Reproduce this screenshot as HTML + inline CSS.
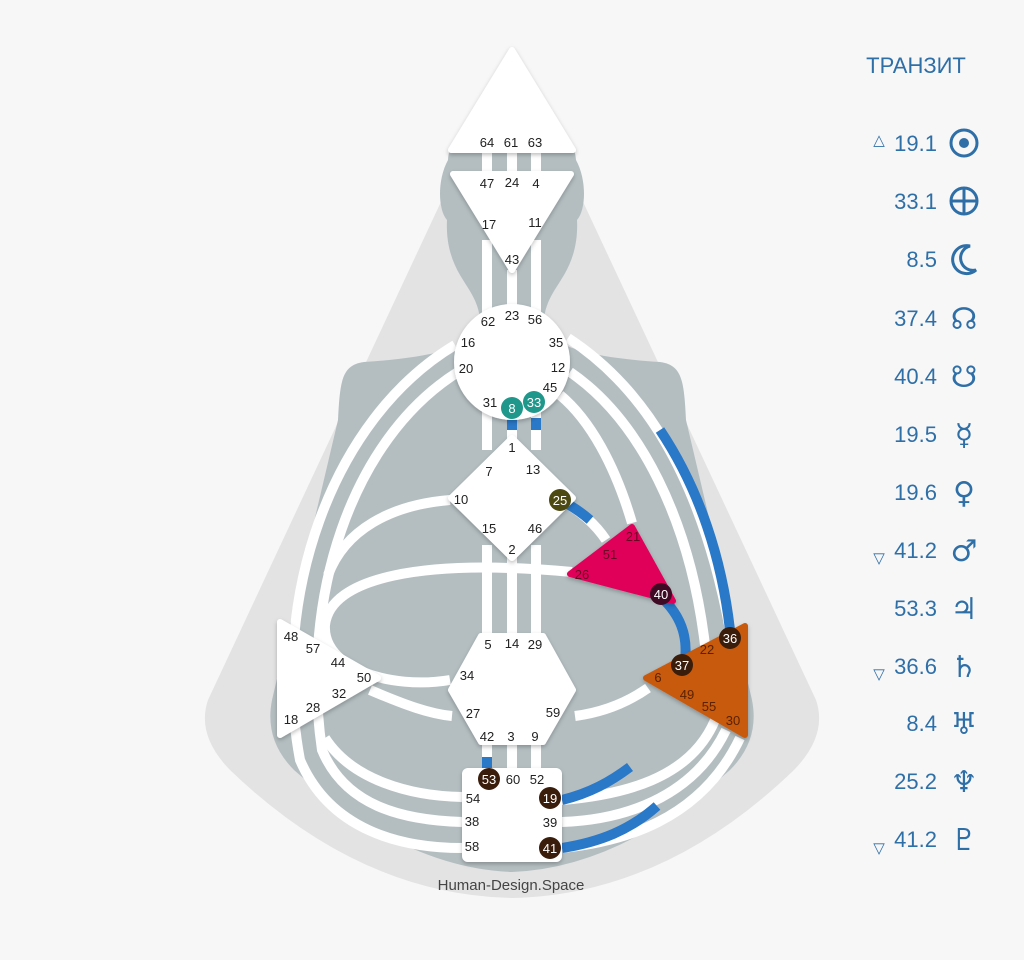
<!DOCTYPE html>
<html><head><meta charset="utf-8"><style>
html,body{margin:0;padding:0;background:#f7f7f7;}
</style></head><body>
<svg width="1024" height="960" viewBox="0 0 1024 960" xmlns="http://www.w3.org/2000/svg" style="position:absolute;left:0;top:0">
<defs>
<filter id="sh" x="-20%" y="-20%" width="140%" height="140%"><feDropShadow dx="0" dy="2" stdDeviation="2" flood-color="#000" flood-opacity="0.25"/></filter>
</defs>
<rect width="1024" height="960" fill="#f7f7f7"/>
<path d="M512,50 L208,700 Q196,735 230,770 Q360,895 512,898 Q664,895 794,770 Q828,735 816,700 Z" fill="#e3e3e3"/>
<path d="M480,330 C482,305 470,292 460,275 C450,258 446,240 447,220 C438,210 437,180 448,160 C450,130 478,118 512,118 C546,118 574,130 576,160 C587,180 586,210 577,220 C578,240 574,258 564,275 C554,292 542,305 544,330 C560,350 600,358 660,362 C682,365 684,380 686,420 L752,700 Q760,740 730,770 Q620,868 512,872 Q404,868 294,770 Q264,740 272,700 L338,420 C340,380 342,365 364,362 C424,358 464,350 480,330 Z" fill="#b4bec1"/>
<g fill="none" stroke="#fff" stroke-width="10">
<path d="M487,150V180M512,150V180M536,150V180"/>
<path d="M487,240V320M512,270V320M536,240V320"/>
<path d="M487,400V450M512,400V450M536,400V450"/>
<path d="M487,545V650M512,545V650M536,545V650"/>
<path d="M487,735V775M512,735V775M536,735V775"/>
<path d="M455,345 C330,420 270,600 300,760 C330,830 400,848 462,848"/>
<path d="M458,372 C350,440 300,600 322,750 C345,805 400,820 462,822"/>
<path d="M325,738 C352,780 410,796 462,797"/>
<path d="M450,500 C390,505 345,530 328,575"/>
<path d="M572,572 C420,558 330,578 325,625 C322,668 390,690 450,680"/>
<path d="M370,690 C405,705 430,714 452,716"/>
<path d="M575,716 C605,712 628,702 648,688"/>
<path d="M568,338 C640,385 700,470 730,630"/>
<path d="M570,372 C640,420 690,520 705,645"/>
<path d="M632,523 C615,465 590,420 560,395"/>
<path d="M560,500 C580,510 596,525 606,540"/>
<path d="M715,720 C690,780 620,795 562,800"/>
<path d="M726,730 C692,800 620,820 562,822"/>
<path d="M740,738 C700,822 620,842 562,848"/>
</g>
<g fill="none" stroke="#2a78c8" stroke-width="10">
<path d="M512,418V430M536,418V430"/>
<path d="M487,757V770"/>
<path d="M660,430 C700,490 722,560 730,630"/>
<path d="M560,500 C572,506 582,513 590,520"/>
<path d="M662,598 C680,615 688,635 685,660"/>
<path d="M630,767 C610,782 590,793 562,800"/>
<path d="M657,806 C630,830 600,842 562,848"/>
</g>
<g fill="#fff" stroke="#fff" stroke-width="6" stroke-linejoin="round" filter="url(#sh)">
<path d="M512,50 L573,150 L451,150 Z"/>
<path d="M453,174 L571,174 L512,270 Z"/>
<circle cx="512" cy="362" r="58" stroke="none"/>
<path d="M512,438 L573,498 L512,558 L451,498 Z"/>
<path d="M481,636 L543,636 L573,690 L543,742 L481,742 L451,690 Z"/>
<rect x="462" y="768" width="100" height="94" rx="6" stroke="none"/>
<path d="M280,622 L378,678 L280,735 Z"/>
<path d="M632,527 L673,601 L570,574 Z" fill="#e0045a" stroke="#e0045a"/>
<path d="M745,626 L745,735 L646,678 Z" fill="#c75a0c" stroke="#c75a0c"/>
</g>
<g>
<circle cx="512" cy="408" r="11" fill="#1f978b"/><circle cx="534" cy="402" r="11" fill="#1f978b"/>
<circle cx="560" cy="500" r="11" fill="#4c4912"/>
<circle cx="661" cy="594" r="11" fill="#3e0a24"/>
<circle cx="730" cy="638" r="11" fill="#3a1d0b"/><circle cx="682" cy="665" r="11" fill="#3a1d0b"/>
<circle cx="489" cy="779" r="11" fill="#3a1d0b"/><circle cx="550" cy="798" r="11" fill="#3a1d0b"/><circle cx="550" cy="848" r="11" fill="#3a1d0b"/>
</g>
<g font-family="Liberation Sans, sans-serif" font-size="13" fill="#222" text-anchor="middle">
<text x="487" y="147">64</text><text x="511" y="147">61</text><text x="535" y="147">63</text>
<text x="487" y="188">47</text><text x="512" y="187">24</text><text x="536" y="188">4</text>
<text x="489" y="229">17</text><text x="535" y="227">11</text><text x="512" y="264">43</text>
<text x="488" y="326">62</text><text x="512" y="320">23</text><text x="535" y="324">56</text>
<text x="468" y="347">16</text><text x="556" y="347">35</text>
<text x="466" y="373">20</text><text x="558" y="372">12</text>
<text x="550" y="392">45</text><text x="490" y="407">31</text>
<text x="512" y="452">1</text><text x="489" y="476">7</text><text x="533" y="474">13</text>
<text x="461" y="504">10</text><text x="489" y="533">15</text><text x="535" y="533">46</text><text x="512" y="554">2</text>
<text x="488" y="649">5</text><text x="512" y="648">14</text><text x="535" y="649">29</text>
<text x="467" y="680">34</text><text x="473" y="718">27</text><text x="553" y="717">59</text>
<text x="487" y="741">42</text><text x="511" y="741">3</text><text x="535" y="741">9</text>
<text x="513" y="784">60</text><text x="537" y="784">52</text>
<text x="473" y="803">54</text><text x="472" y="826">38</text><text x="550" y="827">39</text><text x="472" y="851">58</text>
<text x="291" y="641">48</text><text x="313" y="653">57</text><text x="338" y="667">44</text><text x="364" y="682">50</text>
<text x="339" y="698">32</text><text x="313" y="712">28</text><text x="291" y="724">18</text>
<g fill="#6a0524"><text x="633" y="541">21</text><text x="610" y="559">51</text><text x="582" y="579">26</text></g>
<g fill="#5a2200"><text x="707" y="654">22</text><text x="658" y="682">6</text><text x="687" y="699">49</text><text x="709" y="711">55</text><text x="733" y="725">30</text></g>
<g fill="#fff"><text x="512" y="413">8</text><text x="534" y="407">33</text><text x="560" y="505">25</text><text x="661" y="599">40</text><text x="730" y="643">36</text><text x="682" y="670">37</text><text x="489" y="784">53</text><text x="550" y="803">19</text><text x="550" y="853">41</text></g>
<text x="511" y="890" font-size="15" fill="#444">Human-Design.Space</text>
</g>
<g font-family="Liberation Sans, sans-serif" fill="#2f6fa7">
<text x="916" y="73" font-size="22" text-anchor="middle">ТРАНЗИТ</text>
<g font-size="22" text-anchor="end">
<text x="937" y="151">19.1</text><text x="937" y="209">33.1</text><text x="937" y="267">8.5</text><text x="937" y="326">37.4</text><text x="937" y="384">40.4</text><text x="937" y="442">19.5</text><text x="937" y="500">19.6</text><text x="937" y="558">41.2</text><text x="937" y="616">53.3</text><text x="937" y="674">36.6</text><text x="937" y="731">8.4</text><text x="937" y="789">25.2</text><text x="937" y="847">41.2</text>
</g>
<g font-size="15" text-anchor="middle"><text x="879" y="145">△</text><text x="879" y="563">▽</text><text x="879" y="679">▽</text><text x="879" y="853">▽</text></g>
</g>
<g fill="none" stroke="#2f6fa7" stroke-width="3">
<circle cx="964" cy="143" r="13"/><circle cx="964" cy="143" r="5" fill="#2f6fa7" stroke="none"/>
<circle cx="964" cy="201" r="13"/><path d="M951,201H977M964,188V214"/>
<path d="M970,246 A14,14 0 1 0 976,270 A11,11 0 1 1 970,246 Z"/>
</g>
<g font-family="DejaVu Sans, sans-serif" font-size="30" text-anchor="middle" fill="#2f6fa7">
<text x="964" y="329">☊</text><text x="964" y="387">☋</text><text x="964" y="445">☿</text><text x="964" y="503">♀</text><text x="964" y="561">♂</text><text x="964" y="619">♃</text><text x="964" y="677">♄</text><text x="964" y="734">♅</text><text x="964" y="792">♆</text><text x="964" y="850">♇</text>
</g>
</svg>
</body></html>
